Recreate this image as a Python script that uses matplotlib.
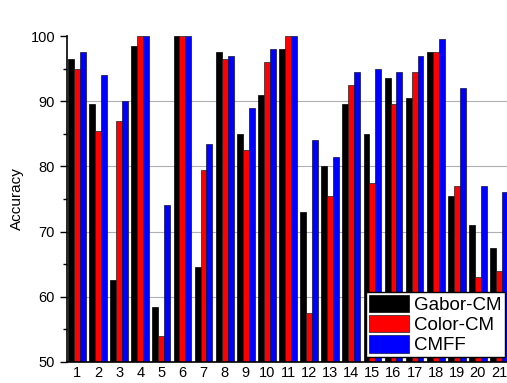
import numpy as np
import matplotlib
matplotlib.use("Agg")
import matplotlib.pyplot as plt
from matplotlib.ticker import MultipleLocator

plt.rcParams['font.family'] = ['Liberation Sans', 'DejaVu Sans']

# ================= DATA =================
groups = list(range(1, 22))
gabor_cm = [96.5, 89.5, 62.5, 98.5, 58.5, 100, 64.5, 97.5, 85, 91, 98,
            73, 80, 89.5, 85, 93.5, 90.5, 97.5, 75.5, 71, 67.5]
color_cm = [95, 85.5, 87, 100, 54, 100, 79.5, 96.5, 82.5, 96, 100,
            57.5, 75.5, 92.5, 77.5, 89.5, 94.5, 97.5, 77, 63, 64]
cmff = [97.5, 94, 90, 100, 74, 100, 83.5, 97, 89, 98, 100,
        84, 81.5, 94.5, 95, 94.5, 97, 99.5, 92, 77, 76]
series_names = ['Gabor-CM', 'Color-CM', 'CMFF']

# ================= PLOT =================
fig = plt.figure(figsize=(5.07, 3.83), dpi=100)
ax = fig.add_axes([0.132, 0.055, 0.868, 0.851])

x = np.array(groups)
w = 0.28
ax.bar(x - w, gabor_cm, w, color='black', edgecolor='black', linewidth=0.5, label=series_names[0], zorder=2)
ax.bar(x, color_cm, w, color='red', edgecolor='#202020', linewidth=0.5, label=series_names[1], zorder=2)
ax.bar(x + w, cmff, w, color='blue', edgecolor='#101040', linewidth=0.5, label=series_names[2], zorder=2)

ax.set_ylim(50, 100)
ax.set_xlim(0.526, 21.38)
ax.set_xticks(groups)
ax.set_xticklabels([str(g) for g in groups], fontsize=10.5)
ax.tick_params(axis='x', length=0, pad=3)
ax.yaxis.set_major_locator(MultipleLocator(10))
ax.yaxis.set_minor_locator(MultipleLocator(5))
ax.tick_params(axis='y', which='major', direction='out', length=5, width=1, labelsize=10.5)
ax.tick_params(axis='y', which='minor', direction='out', length=3, width=1)
ax.set_ylabel('Accuracy', fontsize=11, labelpad=5)

for v in [60, 70, 80, 90]:
    ax.axhline(v, color='#b0b0b0', linewidth=0.8, zorder=1)

ax.spines['top'].set_visible(False)
ax.spines['right'].set_visible(False)
ax.spines['left'].set_linewidth(1.2)
ax.spines['bottom'].set_linewidth(1.2)

leg = ax.legend(loc='lower right', bbox_to_anchor=(0.995, 0.015), fontsize=13.5,
                handlelength=2.15, handleheight=1.05, labelspacing=0.05,
                handletextpad=0.3, borderpad=0.15, borderaxespad=0.0,
                fancybox=False, framealpha=1)
leg.get_frame().set_edgecolor('black')
leg.get_frame().set_linewidth(1.0)

fig.savefig('out.png', dpi=100)
